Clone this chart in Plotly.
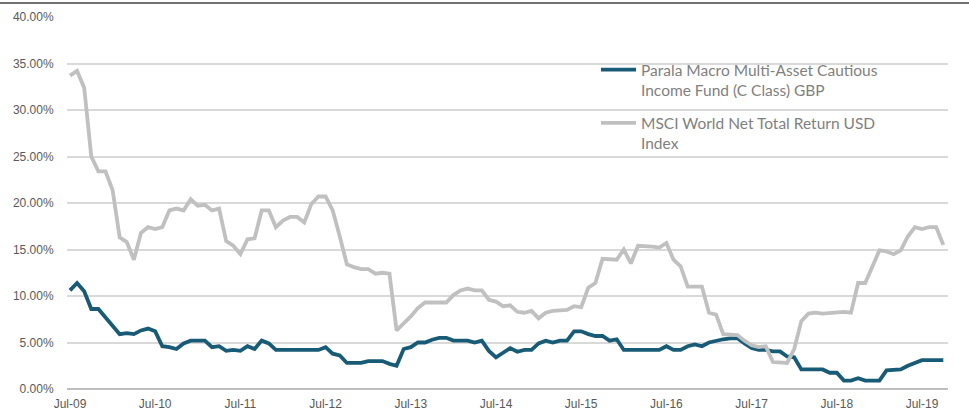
import pandas as pd
import plotly.graph_objects as go

months = list(pd.date_range("2009-07-01", periods=124, freq="MS").strftime("%b-%y"))
tick_labels = ["Jul-09", "Jul-10", "Jul-11", "Jul-12", "Jul-13", "Jul-14",
               "Jul-15", "Jul-16", "Jul-17", "Jul-18", "Jul-19"]

fund_name = "Parala Macro Multi-Asset Cautious<br>Income Fund (C Class) GBP"
index_name = "MSCI World Net Total Return USD<br>Index"

fund_values = [
    10.6, 11.4, 10.5, 8.6, 8.6, 7.7, 6.7, 5.9, 6.0, 5.9, 6.3, 6.5,
    6.2, 4.6, 4.5, 4.3, 4.9, 5.2, 5.2, 5.2, 4.5, 4.6, 4.1, 4.2,
    4.1, 4.6, 4.3, 5.2, 4.9, 4.2, 4.2, 4.2, 4.2, 4.2, 4.2, 4.2,
    4.5, 3.8, 3.6, 2.8, 2.8, 2.8, 3.0, 3.0, 3.0, 2.7, 2.5, 4.3,
    4.5, 5.0, 5.0, 5.3, 5.5, 5.5, 5.2, 5.2, 5.2, 5.0, 5.2, 4.1,
    3.4, 3.9, 4.4, 4.0, 4.2, 4.2, 4.9, 5.2, 5.0, 5.2, 5.2, 6.2,
    6.2, 5.9, 5.7, 5.7, 5.2, 5.35, 4.2, 4.2, 4.2, 4.2, 4.2, 4.2,
    4.6, 4.2, 4.2, 4.6, 4.8, 4.6, 5.0, 5.2, 5.35, 5.45, 5.45, 4.9,
    4.4, 4.2, 4.2, 4.05, 4.05, 3.5, 3.4, 2.1, 2.1, 2.1, 2.1, 1.75,
    1.75, 0.9, 0.9, 1.15, 0.9, 0.9, 0.9, 2.0, 2.1, 2.1, 2.5, 2.8,
    3.1, 3.1, 3.1, 3.1,
]

index_values = [
    33.7, 34.2, 32.4, 25.0, 23.4, 23.4, 21.4, 16.3, 15.8, 13.9, 16.8, 17.4,
    17.2, 17.4, 19.2, 19.4, 19.2, 20.4, 19.7, 19.8, 19.2, 19.4, 15.9, 15.4,
    14.5, 16.1, 16.2, 19.2, 19.2, 17.4, 18.1, 18.5, 18.5, 17.9, 19.9, 20.7,
    20.7, 19.2, 16.4, 13.4, 13.1, 12.9, 12.9, 12.4, 12.5, 12.4, 6.3, 7.0,
    7.8, 8.7, 9.3, 9.3, 9.3, 9.3, 10.1, 10.6, 10.8, 10.6, 10.6, 9.6,
    9.4, 8.9, 9.0, 8.3, 8.2, 8.4, 7.6, 8.2, 8.4, 8.5, 8.5, 8.9,
    8.8, 10.9, 11.4, 14.0, 13.9, 13.9, 15.0, 13.5, 15.4, 15.4, 15.3, 15.2,
    15.7, 13.9, 13.2, 11.0, 11.0, 11.0, 8.2, 8.0, 5.9, 5.8, 5.8, 5.2,
    4.7, 4.5, 4.6, 2.9, 2.8, 2.8, 4.3, 7.3, 8.1, 8.2, 8.1, 8.2,
    8.3, 8.3, 8.2, 11.4, 11.4, 13.2, 14.9, 14.8, 14.5, 14.9, 16.4, 17.4,
    17.2, 17.4, 17.4, 15.5,
]

fig = go.Figure()
fig.add_trace(go.Scatter(
    x=months, y=[v / 100 for v in fund_values], name=fund_name, mode="lines",
    legendgroup="fund", line=dict(color="#185b76", width=3.8),
))
fig.add_trace(go.Scatter(
    x=months, y=[v / 100 for v in index_values], name=index_name, mode="lines",
    legendgroup="index", line=dict(color="#c0c0c0", width=3.8),
))

fig.update_layout(
    width=969, height=412,
    margin=dict(l=67, r=21, t=17, b=23, autoexpand=False),
    paper_bgcolor="white", plot_bgcolor="white",
    font=dict(family="Liberation Sans, Arial, sans-serif", size=12, color="#595959"),
    showlegend=True,
    legend=dict(
        x=(596 - 67) / 881, y=0.903, xanchor="left", yanchor="top",
        bgcolor="rgba(0,0,0,0)", valign="top",
        font=dict(family="Lato, sans-serif", size=15.5, color="#7f7f7f"),
        traceorder="grouped", tracegroupgap=10, itemwidth=35,
    ),
    xaxis=dict(
        type="category", range=[-0.42, 123.66],
        tickmode="array", tickvals=tick_labels, ticktext=tick_labels,
        showgrid=False, zeroline=False, showline=False,
        ticks="outside", ticklen=4, tickcolor="rgba(0,0,0,0)",
        tickfont=dict(size=12, color="#595959"),
        automargin=False,
    ),
    yaxis=dict(
        range=[0, 0.40], tickvals=[0, 0.05, 0.10, 0.15, 0.20, 0.25, 0.30, 0.35, 0.40],
        tickformat=".2%", showgrid=True, gridcolor="#d9d9d9", gridwidth=1.5,
        zeroline=True, zerolinecolor="#bfbfbf", zerolinewidth=1.5,
        showline=False, ticks="outside", ticklen=10, tickcolor="rgba(0,0,0,0)",
        tickfont=dict(size=12, color="#595959"),
        automargin=False,
    ),
    shapes=[dict(
        type="line", xref="paper", yref="paper",
        x0=-67 / 881, x1=1 + 21 / 881, y0=1 + 14 / 372, y1=1 + 14 / 372,
        line=dict(color="#404040", width=1.5),
    )],
)

fig.write_html(
    "out.html",
    config={"displayModeBar": False},
    post_script="document.body.style.margin='0';document.body.style.overflow='hidden';",
)
